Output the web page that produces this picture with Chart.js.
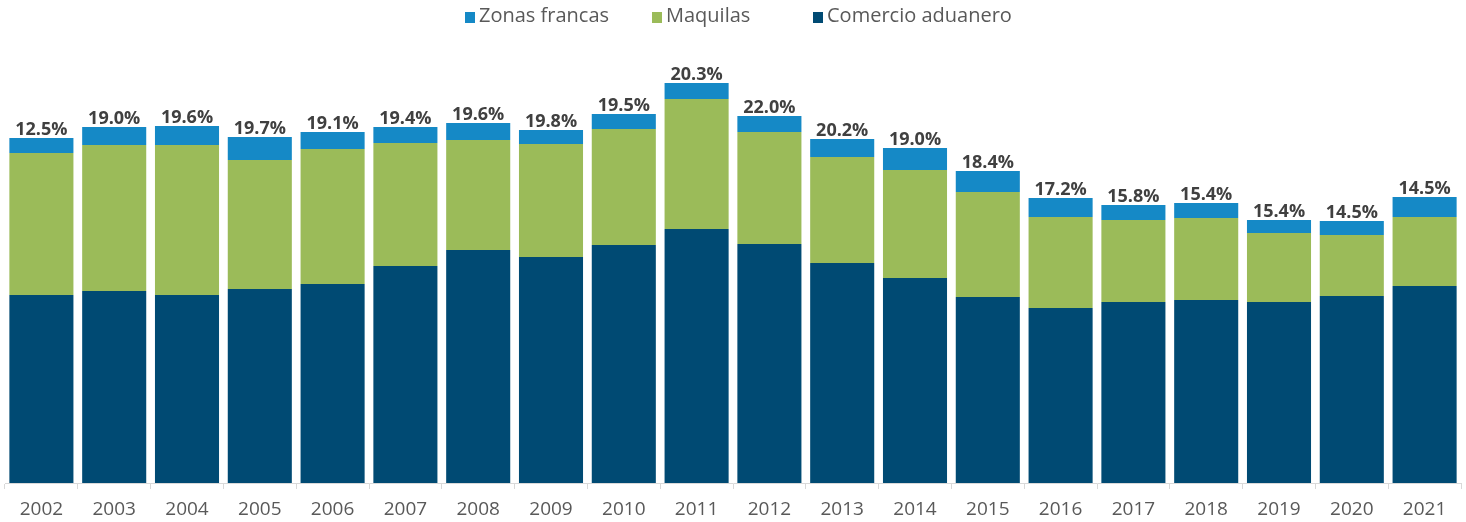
<!DOCTYPE html>
<html>
<head>
<meta charset="utf-8">
<script src="https://cdn.jsdelivr.net/npm/chart.js@4/dist/chart.umd.min.js"></script>
<style>
  html, body { margin: 0; padding: 0; background: #fff; }
  #wrap { position: relative; width: 1466px; height: 522px; }
  #c { position: absolute; left: 0; top: 0; }
  .lg { position: absolute; top: 3px; font: 20px "Open Sans", sans-serif; color: #595959; white-space: nowrap; line-height: 24px; }
  .lg i { display: inline-block; width: 10px; height: 11px; margin-right: 4px; vertical-align: -1px; }
</style>
</head>
<body>
<div id="wrap">
  <canvas id="c" width="1466" height="522"></canvas>
  <div class="lg" style="left:465px"><i style="background:#1589C6"></i>Zonas francas</div>
  <div class="lg" style="left:652px"><i style="background:#9BBB59"></i>Maquilas</div>
  <div class="lg" style="left:813px"><i style="background:#004A73"></i>Comercio aduanero</div>
</div>
<script>
const years = ['2002','2003','2004','2005','2006','2007','2008','2009','2010','2011','2012','2013','2014','2015','2016','2017','2018','2019','2020','2021'];
const comercioAduanero = [18.8,19.2,18.8,19.4,19.9,21.7,23.3,22.6,23.8,25.4,23.9,22.0,20.5,18.6,17.5,18.1,18.3,18.1,18.7,19.7];
const maquilas        = [14.2,14.6,15.0,12.9,13.5,12.3,11.0,11.3,11.6,13.0,11.2,10.6,10.8,10.5,9.1,8.2,8.2,6.9,6.1,6.9];
const zonasFrancas    = [1.5,1.8,1.9,2.3,1.7,1.6,1.7,1.4,1.5,1.6,1.6,1.8,2.2,2.1,1.9,1.5,1.5,1.3,1.4,2.0];
const shareLabels = ['12.5%','19.0%','19.6%','19.7%','19.1%','19.4%','19.6%','19.8%','19.5%','20.3%','22.0%','20.2%','19.0%','18.4%','17.2%','15.8%','15.4%','15.4%','14.5%','14.5%'];

const topLabels = {
  id: 'topLabels',
  afterDatasetsDraw(chart) {
    const ctx = chart.ctx;
    const last = chart.getDatasetMeta(chart.data.datasets.length - 1);
    ctx.save();
    ctx.font = 'bold 18px "Open Sans", sans-serif';
    ctx.fillStyle = '#404040';
    ctx.textAlign = 'center';
    ctx.textBaseline = 'alphabetic';
    last.data.forEach((bar, i) => {
      ctx.fillText(shareLabels[i], bar.x, bar.y - 3);
    });
    ctx.restore();
  }
};

new Chart(document.getElementById('c'), {
  type: 'bar',
  data: {
    labels: years,
    datasets: [
      { label: 'Comercio aduanero', data: comercioAduanero, backgroundColor: '#004A73' },
      { label: 'Maquilas', data: maquilas, backgroundColor: '#9BBB59' },
      { label: 'Zonas francas', data: zonasFrancas, backgroundColor: '#1589C6' }
    ]
  },
  options: {
    responsive: false,
    animation: false,
    events: [],
    layout: { padding: { top: 43, left: 5, right: 5, bottom: 0 } },
    datasets: { bar: { categoryPercentage: 1, barPercentage: 0.88, borderWidth: 0 } },
    plugins: { legend: { display: false }, tooltip: { enabled: false } },
    scales: {
      x: {
        stacked: true,
        afterFit: (scale) => { scale.height = 39; },
        grid: { display: true, drawOnChartArea: false, drawTicks: true, tickLength: 6, color: '#d9d9d9', offset: true },
        border: { display: true, color: '#d9d9d9' },
        ticks: { color: '#595959', font: { family: '"Open Sans", sans-serif', size: 19, lineHeight: 1 }, padding: 11, maxRotation: 0 }
      },
      y: { stacked: true, display: false, min: 0, max: 44.0 }
    }
  },
  plugins: [topLabels]
});
</script>
</body>
</html>
